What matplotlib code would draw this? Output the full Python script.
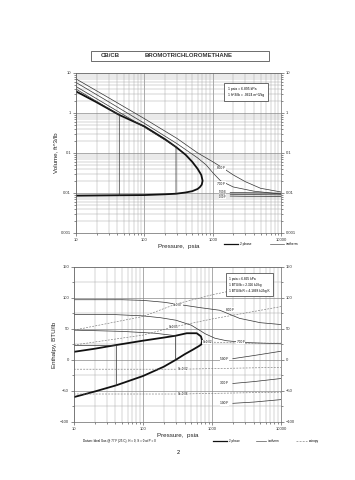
import numpy as np
import matplotlib
matplotlib.use("Agg")
import matplotlib.pyplot as plt
from matplotlib.ticker import LogLocator, FixedLocator, NullFormatter
from matplotlib.lines import Line2D
from matplotlib.patches import Rectangle

plt.rcParams['font.family'] = ['Liberation Sans', 'DejaVu Sans']

# ---- volume chart data (pressure psia, volume ft^3/lb) ----
dome_vap_p = [10, 20, 43, 100, 200, 290, 400, 500, 600, 680, 710]
dome_vap_v = [3.46, 1.85, 0.89, 0.46, 0.22, 0.14, 0.09, 0.06, 0.04, 0.028, 0.02]
dome_liq_p = [710, 690, 650, 600, 500, 400, 290, 200, 100, 43, 10]
dome_liq_v = [0.02, 0.016, 0.014, 0.0125, 0.011, 0.0102, 0.0095, 0.0092, 0.0088, 0.0087, 0.0085]

iso800_p = [10, 30, 100, 300, 600, 1000, 1400, 2000, 3000, 5000, 10000]
iso800_v = [7.1, 2.4, 0.72, 0.23, 0.1, 0.06, 0.042, 0.028, 0.019, 0.013, 0.0105]
iso700_p = [10, 30, 100, 300, 600, 800, 1000, 1300, 2000, 4000, 10000]
iso700_v = [5.8, 1.9, 0.55, 0.17, 0.075, 0.05, 0.032, 0.02, 0.014, 0.011, 0.0093]
iso500_p = [10, 30, 100, 200, 290, 290]
iso500_v = [4.6, 1.5, 0.44, 0.21, 0.14, 0.0095]
iso300_p = [10, 20, 43, 43]
iso300_v = [3.96, 1.95, 0.9, 0.0087]
liq_labels = ["500 F", "300 F", "100 F"]
liq_p = [1800, 3000, 5000, 10000]
liq_v = [[0.0102, 0.0101, 0.0100, 0.0098],
         [0.0092, 0.0091, 0.0090, 0.0089],
         [0.0083, 0.0082, 0.0082, 0.0081]]
liq_label_v = [0.0108, 0.0093, 0.0080]

# ---- enthalpy chart data (pressure psia, enthalpy BTU/lb) ----
hdome_vap_p = [10, 20, 41, 100, 200, 297, 430, 600, 690, 720]
hdome_vap_h = [13, 18, 24, 31, 36, 39, 43, 43, 38, 31]
hdome_liq_p = [720, 700, 640, 537, 400, 297, 200, 100, 41, 20, 10]
hdome_liq_h = [31, 25, 22, 17, 9, 0, -11, -26, -41, -51, -60]

hiso800_p = [10, 50, 100, 200, 400, 700, 1300, 2500, 5000, 10000]
hiso800_h = [97, 97, 96, 93, 88, 84, 80, 67, 60, 57]
hiso700_p = [10, 40, 100, 180, 300, 500, 800, 1100, 1600, 3000, 10000]
hiso700_h = [73, 73, 71, 68, 64, 56, 42, 35, 31, 28, 26]
hiso500_p = [10, 50, 150, 297, 297]
hiso500_h = [48, 46, 43, 39, 0]
hiso300_p = [10, 25, 41, 41]
hiso300_h = [24, 24, 24, -41]
hliq_labels = ["500 F", "300 F", "100 F"]
hliq_p = [2000, 4000, 10000]
hliq_h = [[2, 7, 14], [-38, -35, -30], [-70, -68, -64]]

ent_labels = ["S=0.07", "S=0.05", "S=0.02", "S=-0.02", "S=-0.06"]
ent_p = [[10, 100, 300, 1000, 2000],
         [10, 100, 275, 1000, 10000],
         [780, 1500, 3000, 10000],
         [10, 100, 375, 1000, 10000],
         [10, 100, 375, 1000, 10000]]
ent_h = [[48, 70, 90, 105, 112],
         [24, 40, 53, 66, 86],
         [29, 28, 27, 27],
         [-15, -15, -15, -14, -12],
         [-55, -55, -55, -54, -52]]
ent_label_at = [(320, 88), (275, 53), (850, 29), (375, -15), (375, -55)]

fig = plt.figure(figsize=(3.55, 4.8), dpi=100)
fig.patch.set_facecolor('white')

# title box
fig.patches.append(Rectangle((0.256, 0.873), 0.502, 0.021, transform=fig.transFigure,
                             fill=False, lw=0.6, ec='#555555'))
fig.text(0.285, 0.8835, "CB/CB", fontsize=4.3, va='center', weight='bold', color='#333333')
fig.text(0.53, 0.8835, "BROMOTRICHLOROMETHANE", fontsize=4.3, va='center', ha='center',
         weight='bold', color='#333333')


def style_axes(ax):
    ax.set_xscale('log')
    ax.set_xlim(10, 10000)
    ax.xaxis.set_major_locator(LogLocator(base=10))
    ax.xaxis.set_minor_locator(LogLocator(base=10, subs=np.arange(2, 10)))
    ax.xaxis.set_minor_formatter(NullFormatter())
    ax.set_xticks([10, 100, 1000, 10000])
    ax.set_xticklabels(["10", "100", "1000", "10000"])
    ax.grid(True, which='major', color='#888888', lw=0.5)
    ax.grid(True, which='minor', color='#aaaaaa', lw=0.35)
    ax.tick_params(which='both', labelsize=3, length=2, width=0.4, pad=1.5,
                   right=True, labelright=True, colors='#333333')
    ax.tick_params(which='minor', length=1.2)
    for s in ax.spines.values():
        s.set_linewidth(0.5)
        s.set_color('#666666')
    ax.set_xlabel("Pressure,  psia", fontsize=4.5, labelpad=1.5, color='#222222')


# ---------------- volume chart ----------------
ax1 = fig.add_axes([0.214, 0.515, 0.578, 0.333])
style_axes(ax1)
ax1.set_yscale('log')
ax1.set_ylim(0.001, 10)
ax1.set_yticks([0.001, 0.01, 0.1, 1, 10])
ax1.set_yticklabels(["0.001", "0.01", "0.1", "1", "10"])
ax1.yaxis.set_minor_locator(LogLocator(base=10, subs=np.arange(2, 10)))
ax1.yaxis.set_minor_formatter(NullFormatter())
ax1.set_ylabel("Volume, ft^3/lb", fontsize=4.5, labelpad=2, color='#222222')

ax1.plot(dome_vap_p + dome_liq_p, dome_vap_v + dome_liq_v, color='#111111', lw=1.3)
for p, v in [(iso800_p, iso800_v), (iso700_p, iso700_v), (iso500_p, iso500_v), (iso300_p, iso300_v)]:
    ax1.plot(p, v, color='#333333', lw=0.5)
ax1.text(1340, 0.041, "800 F", fontsize=2.3, ha='center', va='center',
         bbox=dict(fc='white', ec='none', pad=0.3))
ax1.text(1340, 0.017, "700 F", fontsize=2.3, ha='center', va='center',
         bbox=dict(fc='white', ec='none', pad=0.3))
for lab, vv, lv in zip(liq_labels, liq_v, liq_label_v):
    ax1.plot(liq_p, vv, color='#333333', lw=0.5)
    ax1.text(1400, lv, lab, fontsize=1.9, ha='center', va='center',
             bbox=dict(fc='white', ec='none', pad=0.1))

ax1.text(0.74, 0.88, "1 psia = 6.895 kPa\n1 ft^3/lb = .0624 m^3/kg", transform=ax1.transAxes,
         fontsize=2.4, va='center', ha='left', linespacing=1.8,
         bbox=dict(fc='white', ec='#333333', lw=0.5, pad=2.5))

# legend
fig.add_artist(Line2D([0.63, 0.67], [0.492, 0.492], color='#111111', lw=0.9))
fig.text(0.675, 0.492, "2 phase", fontsize=2.3, va='center')
fig.add_artist(Line2D([0.76, 0.80], [0.492, 0.492], color='#555555', lw=0.5))
fig.text(0.805, 0.492, "isotherm", fontsize=2.3, va='center')

# ---------------- enthalpy chart ----------------
ax2 = fig.add_axes([0.208, 0.121, 0.584, 0.323])
style_axes(ax2)
ax2.set_ylim(-100, 150)
ax2.set_yticks([-100, -50, 0, 50, 100, 150])
ax2.yaxis.set_minor_locator(FixedLocator([-75, -25, 25, 75, 125]))
ax2.set_ylabel("Enthalpy, BTU/lb", fontsize=4.5, labelpad=2, color='#222222')

ax2.plot(hdome_vap_p + hdome_liq_p, hdome_vap_h + hdome_liq_h, color='#111111', lw=1.3)
for p, h in [(hiso800_p, hiso800_h), (hiso700_p, hiso700_h), (hiso500_p, hiso500_h), (hiso300_p, hiso300_h)]:
    ax2.plot(p, h, color='#333333', lw=0.5)
ax2.text(1800, 81, "800 F", fontsize=2.3, ha='center', va='center',
         bbox=dict(fc='white', ec='none', pad=0.3))
ax2.text(2600, 29, "700 F", fontsize=2.3, ha='center', va='center',
         bbox=dict(fc='white', ec='none', pad=0.3))
for lab, hh in zip(hliq_labels, hliq_h):
    ax2.plot(hliq_p, hh, color='#333333', lw=0.5)
    ax2.text(1500, hh[0], lab, fontsize=2.3, ha='center', va='center',
             bbox=dict(fc='white', ec='none', pad=0.2))
for lab, pp, hh, (lp, lh) in zip(ent_labels, ent_p, ent_h, ent_label_at):
    ax2.plot(pp, hh, color='#777777', lw=0.45, ls=(0, (3, 2)))
    ax2.text(lp, lh, lab, fontsize=2.2, ha='center', va='center',
             bbox=dict(fc='white', ec='none', pad=0.2))

ax2.text(0.75, 0.885, "1 psia = 6.895 kPa\n1 BTU/lb = 2.326 kJ/kg\n1 BTU/lb R = 4.1868 kJ/kg K",
         transform=ax2.transAxes, fontsize=2.3, va='center', ha='left', linespacing=1.7,
         bbox=dict(fc='white', ec='#333333', lw=0.5, pad=2.5))

fig.text(0.235, 0.081, "Datum: Ideal Gas @ 77 F (25 C), H = 0, S = 0 at P = 0", fontsize=2.2, va='center')
fig.add_artist(Line2D([0.60, 0.64], [0.081, 0.081], color='#111111', lw=0.9))
fig.text(0.645, 0.081, "2 phase", fontsize=2.2, va='center')
fig.add_artist(Line2D([0.72, 0.75], [0.081, 0.081], color='#555555', lw=0.5))
fig.text(0.755, 0.081, "isotherm", fontsize=2.2, va='center')
fig.add_artist(Line2D([0.835, 0.865], [0.081, 0.081], color='#777777', lw=0.45, ls=(0, (3, 2))))
fig.text(0.87, 0.081, "entropy", fontsize=2.2, va='center')

fig.text(0.501, 0.058, "2", fontsize=4, ha='center', va='center')

fig.savefig("out.png", dpi=100, facecolor='white')
